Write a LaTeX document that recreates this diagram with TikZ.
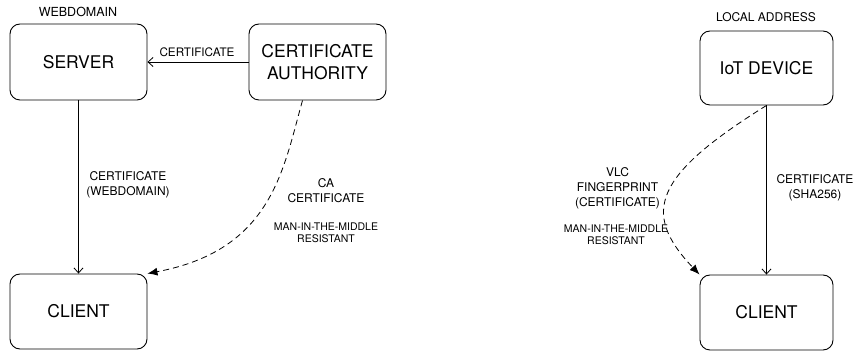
\documentclass[tikz,border=0pt]{standalone}
\usepackage{fontspec}
\setmainfont{TeX Gyre Heros}
\usetikzlibrary{arrows.meta,calc}
\begin{document}
\begin{tikzpicture}[x=1pt,y=-1pt,
  box/.style={draw,line width=0.9pt,rounded corners=10pt,minimum width=137pt,minimum height=76pt,align=center,font=\fontsize{17.5}{21.5}\selectfont,inner sep=0pt},
  lbl/.style={align=center,font=\fontsize{12}{15}\selectfont,inner sep=0pt},
  small/.style={align=center,font=\fontsize{10.5}{12}\selectfont,inner sep=0pt},
  solidarrow/.style={draw,line width=0.8pt,-{Straight Barb[length=5pt,width=9pt]}},
  dasharrow/.style={draw,line width=0.8pt,dash pattern=on 6pt off 4pt,-{Latex[length=10pt,width=8pt]}}]
\useasboundingbox (0,0) rectangle (854,352);
% left
\node[box] (srv) at (78.5,62) {SERVER};
\node[box] (ca) at (317.5,62) {CERTIFICATE\\AUTHORITY};
\node[box,minimum height=75pt] (cl1) at (78.5,311.5) {CLIENT};
\node[lbl,font=\fontsize{12.5}{15}\selectfont] (web) at (78,12) {WEBDOMAIN};
\draw[solidarrow] (ca.west) -- (srv.east);
\node[lbl,font=\fontsize{11.7}{14}\selectfont] (l1) at (197,52) {CERTIFICATE};
\draw[solidarrow] (srv.south) -- (cl1.north);
\node[lbl] (l2) at (128,185) {CERTIFICATE\\(WEBDOMAIN)};
\coordinate (cas) at ($(ca.south)+(-15,0)$);
\draw[dasharrow] (cas) .. controls (283,170) and (272,250) .. (cl1.north east);
\node[lbl] (l3) at (326,191) {CA\\CERTIFICATE};
\node[small] (l4) at (326,233) {MAN-IN-THE-MIDDLE\\RESISTANT};
% right
\node[box,minimum width=133pt,minimum height=74pt] (iot) at (766.5,68) {IoT DEVICE};
\node[box,minimum width=133pt,minimum height=75pt] (cl2) at (766.5,312.5) {CLIENT};
\node[lbl] (loc) at (766,17) {LOCAL ADDRESS};
\draw[solidarrow] (iot.south) -- (cl2.north);
\node[lbl] (l5) at (815,188) {CERTIFICATE\\(SHA256)};
\draw[dasharrow] (iot.south) .. controls (655,175) and (640,212) .. (cl2.north west);
\node[lbl] (l6) at (617.5,188) {VLC\\FINGERPRINT\\(CERTIFICATE)};
\node[small] (l7) at (616,235) {MAN-IN-THE-MIDDLE\\RESISTANT};
\end{tikzpicture}
\end{document}
